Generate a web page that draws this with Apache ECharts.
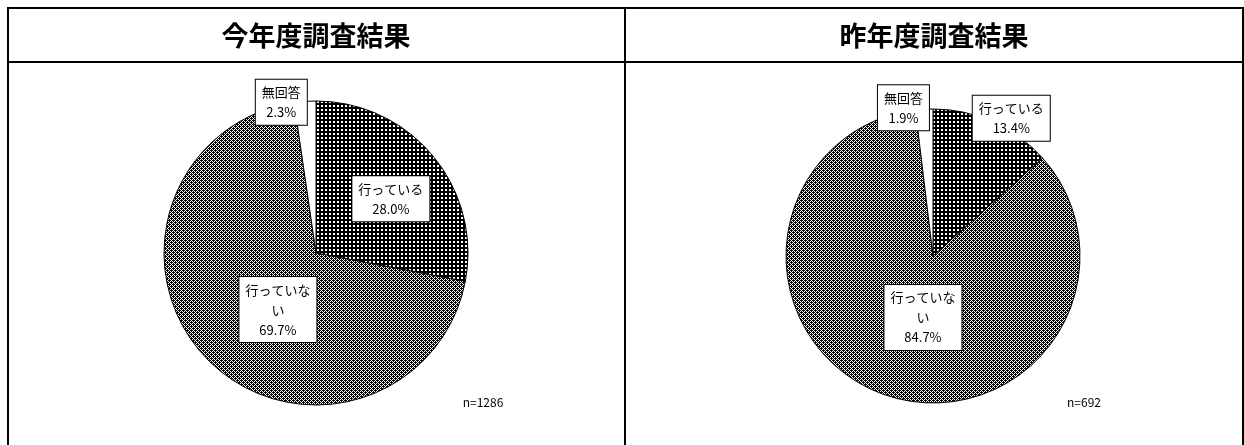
<!DOCTYPE html>
<html>
<head>
<meta charset="utf-8">
<script src="https://cdn.jsdelivr.net/npm/echarts@6/dist/echarts.min.js"></script>
<style>
html,body{margin:0;padding:0;background:#fff;}
#chart{width:1244px;height:445px;}
</style>
</head>
<body>
<div id="chart"></div>
<script>
// ---- data ----
const categories = ['行っている', '行っていない', '無回答'];
const labelNames = ['行っている', '行っていな\nい', '無回答'];
const thisYearValues = [28.0, 69.7, 2.3];
const lastYearValues = [13.4, 84.7, 1.9];
const panelTitles = ['今年度調査結果', '昨年度調査結果'];
const sampleSizes = ['n=1286', 'n=692'];

// ---- patterns ----
function makePattern(size, bg, fg, pixels) {
  const c = document.createElement('canvas');
  c.width = size; c.height = size;
  const ctx = c.getContext('2d');
  ctx.fillStyle = bg; ctx.fillRect(0, 0, size, size);
  ctx.fillStyle = fg;
  pixels.forEach(p => ctx.fillRect(p[0], p[1], 1, 1));
  return c;
}
const darkPat = makePattern(4, '#000', '#fff', [[1,1],[2,1],[1,2],[2,2]]);
const midPat = makePattern(4, '#fff', '#000', [
  [0,0],[2,0],[1,1],[3,1],[0,2],[2,2],[1,3],[3,3],[1,0],[3,2]
]);
const sliceColors = [
  { image: darkPat, repeat: 'repeat' },
  { image: midPat, repeat: 'repeat' },
  '#ffffff'
];

// ---- layout ----
const pies = [
  { values: thisYearValues, center: [316, 253], radius: 152,
    offsets: [[14, -4], [19, 2], [-29, -72]] },
  { values: lastYearValues, center: [933, 256], radius: 147,
    offsets: [[47, -68], [17, -10], [-25, -72]] }
];

const FONT = '"Noto Sans CJK JP", "Noto Sans", sans-serif';

const series = pies.map((p, si) => ({
  type: 'pie',
  center: p.center,
  radius: p.radius,
  startAngle: 90,
  clockwise: true,
  silent: true,
  avoidLabelOverlap: false,
  percentPrecision: 1,
  itemStyle: { borderColor: '#000', borderWidth: 1 },
  label: {
    show: true,
    position: 'inside',
    formatter: prm => labelNames[prm.dataIndex] + '\n' + prm.value.toFixed(1) + '%',
    color: '#000',
    fontFamily: FONT,
    fontSize: 13,
    lineHeight: 20,
    backgroundColor: '#fff',
    borderColor: '#000',
    borderWidth: 1,
    padding: [3, 6, 2, 6],
    align: 'center'
  },
  labelLine: { show: false },
  labelLayout: prm => ({ dx: p.offsets[prm.dataIndex][0], dy: p.offsets[prm.dataIndex][1] }),
  emphasis: { disabled: true },
  data: categories.map((c, i) => ({
    name: c, value: p.values[i], itemStyle: { color: sliceColors[i] }
  }))
}));

const lineStyle = { stroke: '#000', lineWidth: 2 };
const graphics = [
  { type: 'line', shape: { x1: 7, y1: 8, x2: 1244, y2: 8 }, style: lineStyle },
  { type: 'line', shape: { x1: 8, y1: 7, x2: 8, y2: 445 }, style: lineStyle },
  { type: 'line', shape: { x1: 7, y1: 62, x2: 1244, y2: 62 }, style: lineStyle },
  { type: 'line', shape: { x1: 625, y1: 7, x2: 625, y2: 445 }, style: lineStyle },
  { type: 'line', shape: { x1: 1243, y1: 7, x2: 1243, y2: 445 }, style: lineStyle },
  { type: 'text', x: 316, y: 36, style: { text: panelTitles[0], fontFamily: FONT, fontSize: 27, fontWeight: 'bold', fill: '#000', align: 'center', verticalAlign: 'middle' } },
  { type: 'text', x: 934, y: 36, style: { text: panelTitles[1], fontFamily: FONT, fontSize: 27, fontWeight: 'bold', fill: '#000', align: 'center', verticalAlign: 'middle' } },
  { type: 'text', x: 483, y: 402, style: { text: sampleSizes[0], fontFamily: FONT, fontSize: 12, fill: '#000', align: 'center', verticalAlign: 'middle' } },
  { type: 'text', x: 1084, y: 402, style: { text: sampleSizes[1], fontFamily: FONT, fontSize: 12, fill: '#000', align: 'center', verticalAlign: 'middle' } }
];

const chart = echarts.init(document.getElementById('chart'), null, { renderer: 'canvas' });
chart.setOption({
  animation: false,
  backgroundColor: '#fff',
  series: series,
  graphic: graphics
});
</script>
</body>
</html>
